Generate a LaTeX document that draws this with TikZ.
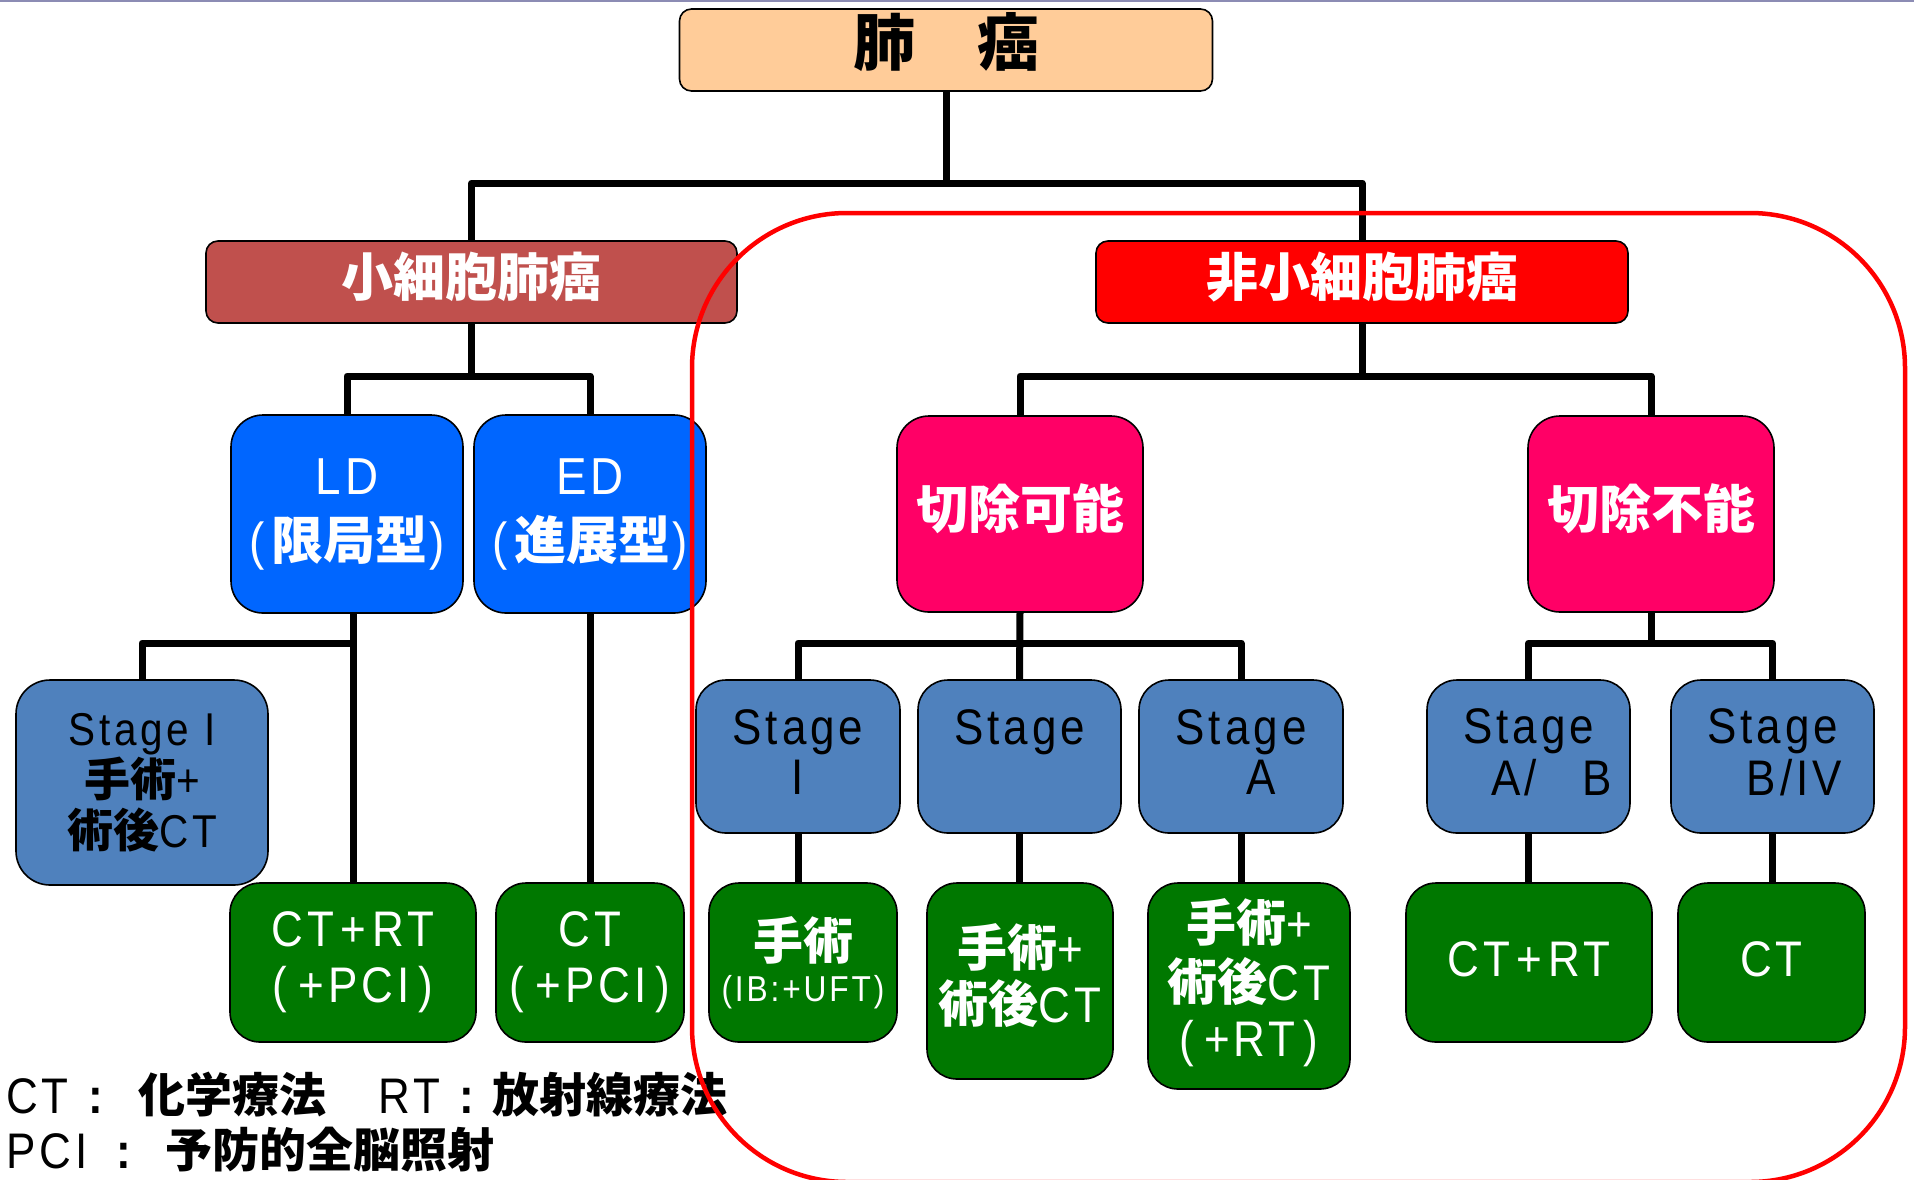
\documentclass[tikz,border=0pt]{standalone}
\usepackage{fontspec}
\usetikzlibrary{backgrounds}
\setmainfont{Liberation Sans}
\newfontfamily\lat[FakeStretch=0.88,LetterSpace=8]{Liberation Sans}
\newfontfamily\cjk{Noto Sans CJK JP}
\newcommand\J[1]{{\cjk\bfseries #1}}
\newcommand\fs[2]{\fontsize{#1}{#2}\selectfont}
\newcommand\up[2]{\raisebox{#1}[\height][\depth]{#2}}
\newcommand\ml[2]{\raisebox{#1}[\height][\depth]{\begin{tabular}{@{}c@{}}#2\end{tabular}}}
\definecolor{peach}{HTML}{FFCC99}
\definecolor{brick}{HTML}{C0504D}
\definecolor{bblue}{HTML}{0066FF}
\definecolor{pinkr}{HTML}{FF0066}
\definecolor{steel}{HTML}{4F81BD}
\definecolor{dgreen}{HTML}{007800}
\definecolor{topline}{HTML}{8C8CB4}
\tikzset{
  bx/.style={draw=black,line width=1.6pt,inner sep=0pt,outer sep=0pt,align=center},
  conn/.style={line width=7pt,line join=round},
  hdr/.style={bx,rounded corners=12pt,minimum height=82pt,text=white,font=\fs{52}{60}},
  tall/.style={bx,rounded corners=32pt,minimum width=232pt,minimum height=198pt,text=white,font=\lat\fs{52}{65}},
  stg/.style={bx,fill=steel,rounded corners=30pt,minimum width=204pt,minimum height=153pt,font=\lat\fs{50}{50}},
  grn/.style={bx,fill=dgreen,rounded corners=30pt,text=white,font=\lat\fs{50}{56}},
  lg/.style={inner sep=0pt,anchor=base west,font=\lat\fs{50}{50}},
  lgj/.style={inner sep=0pt,anchor=base west,font=\fs{47}{50}}
}
\begin{document}
\begin{tikzpicture}[x=1pt,y=-1pt]
\useasboundingbox (0,0) rectangle (1914,1179);

% junction coordinates
\coordinate (j0) at (946,183);
\coordinate (j1) at (471.5,376);
\coordinate (j2) at (353,643);
\coordinate (j3) at (1362,376);
\coordinate (j4) at (1020,643);
\coordinate (j5) at (1651,643);

% nodes
\node[bx,fill=peach,rounded corners=12pt,minimum width=533pt,minimum height=82pt,font=\fs{62}{62}] (top) at (946,50) {\up{8pt}{\J{肺　癌}}};
\node[hdr,fill=brick,minimum width=531pt] (sc) at (471.5,282) {\up{5pt}{\J{小細胞肺癌}}};
\node[hdr,fill=red,minimum width=532pt] (nsc) at (1362,282) {\up{5pt}{\J{非小細胞肺癌}}};

\node[tall,fill=bblue] (ld) at (347,514) {LD\\(\hspace{6pt}\J{限局型}\hspace{2pt})};
\node[tall,fill=bblue] (ed) at (590,514) {ED\\(\hspace{6pt}\J{進展型}\hspace{2pt})};
\node[tall,fill=pinkr,minimum width=246pt,minimum height=196pt] (r1) at (1020,514) {\up{5pt}{\J{切除可能}}};
\node[tall,fill=pinkr,minimum width=246pt,minimum height=196pt] (r2) at (1651,514) {\up{5pt}{\J{切除不能}}};

\node[stg,minimum width=252pt,minimum height=205pt,rounded corners=34pt,font=\lat\fs{46}{51}] (sl) at (142,782.5) {Stage I\\\J{手術}+\\\J{術後}CT};
\node[stg] (s1) at (798,756.5) {\ml{-3pt}{Stage\\I}};
\node[stg,minimum width=203pt] (s2) at (1019.5,756.5) {\ml{-3pt}{Stage\\\phantom{I}}};
\node[stg] (s3) at (1241,756.5) {\ml{-3pt}{Stage\\\hspace*{41pt}A}};
\node[stg,minimum width=203pt] (s4) at (1528.5,756.5) {\ml{-3pt}{Stage\\\hspace*{46pt}A/\hspace{46pt}B}};
\node[stg,minimum width=203pt] (s5) at (1772.5,756.5) {\ml{-3pt}{Stage\\\hspace*{44pt}B/IV}};

\node[grn,minimum width=246pt,minimum height=159pt] (g1) at (353,962.5) {CT\hspace{6pt}+\hspace{6pt}RT\\(\hspace{11pt}+PCI\hspace{9pt})};
\node[grn,minimum width=188pt,minimum height=159pt] (g2) at (590,962.5) {CT\\(\hspace{11pt}+PCI\hspace{9pt})};
\node[grn,minimum width=188pt,minimum height=159pt] (g3) at (803,962.5) {\ml{-5pt}{\J{手術}\\[-14pt]{\fs{36}{36}(IB:+UFT)}}};
\node[grn,minimum width=186pt,minimum height=196pt] (g4) at (1020,981) {\ml{0pt}{\J{手術}+\\[-4pt]\J{術後}CT}};
\node[grn,minimum width=202pt,minimum height=206pt] (g5) at (1249,986) {\ml{0pt}{\J{手術}+\\[-1pt]\J{術後}CT\\(\hspace{10pt}+RT\hspace{8pt})}};
\node[grn,minimum width=246pt,minimum height=159pt] (g6) at (1529,962.5) {\up{3pt}{CT\hspace{6pt}+\hspace{6pt}RT}};
\node[grn,minimum width=187pt,minimum height=159pt] (g7) at (1771.5,962.5) {\up{3pt}{CT}};

% connectors
\begin{scope}[on background layer]
\fill[white] (0,0) rectangle (1914,1179);
\draw[topline,line width=2pt] (0,1) -- (1914,1);
\draw[conn] (top.south) -- (j0);
\draw[conn] (sc.north) |- (j0) -| (nsc.north);
\draw[conn] (sc.south) -- (j1);
\draw[conn] (ld.north) |- (j1) -| (ed.north);
\draw[conn] (ld.south -| g1.north) -- (g1.north);
\draw[conn] (sl.north) |- (j2);
\draw[conn] (ed.south) -- (g2.north);
\draw[conn] (nsc.south) -- (j3);
\draw[conn] (r1.north) |- (j3) -| (r2.north);
\draw[conn] (r1.south) -- (s2.north);
\draw[conn] (s1.north) |- (j4) -| (s3.north);
\draw[conn] (r2.south) -- (j5);
\draw[conn] (s4.north) |- (j5) -| (s5.north);
\draw[conn] (s1.south) -- (s1.south |- g3.north);
\draw[conn] (s2.south) -- (s2.south |- g4.north);
\draw[conn] (s3.south) -- (s3.south |- g5.north);
\draw[conn] (s4.south) -- (s4.south |- g6.north);
\draw[conn] (s5.south) -- (s5.south |- g7.north);
\end{scope}

% legend
\node[lg] (la) at (6,1113) {CT};
\node[lg,anchor=base] (lb) at (98,1113) {\textbf{:}};
\node[lgj] (lc) at (138,1112) {\J{化学療法}};
\node[lg] (ld2) at (378,1113) {RT};
\node[lg,anchor=base] (le) at (469,1113) {\textbf{:}};
\node[lgj] (lf) at (492,1112) {\J{放射線療法}};
\node[lg] (lgg) at (6,1168) {PCI};
\node[lg,anchor=base] (lh) at (126,1168) {\textbf{:}};
\node[lgj] (li) at (165,1167) {\J{予防的全脳照射}};

% red frame
\draw[red,line width=4.5pt,rounded corners=155pt] (692,213) rectangle (1905,1182);
\end{tikzpicture}
\end{document}
